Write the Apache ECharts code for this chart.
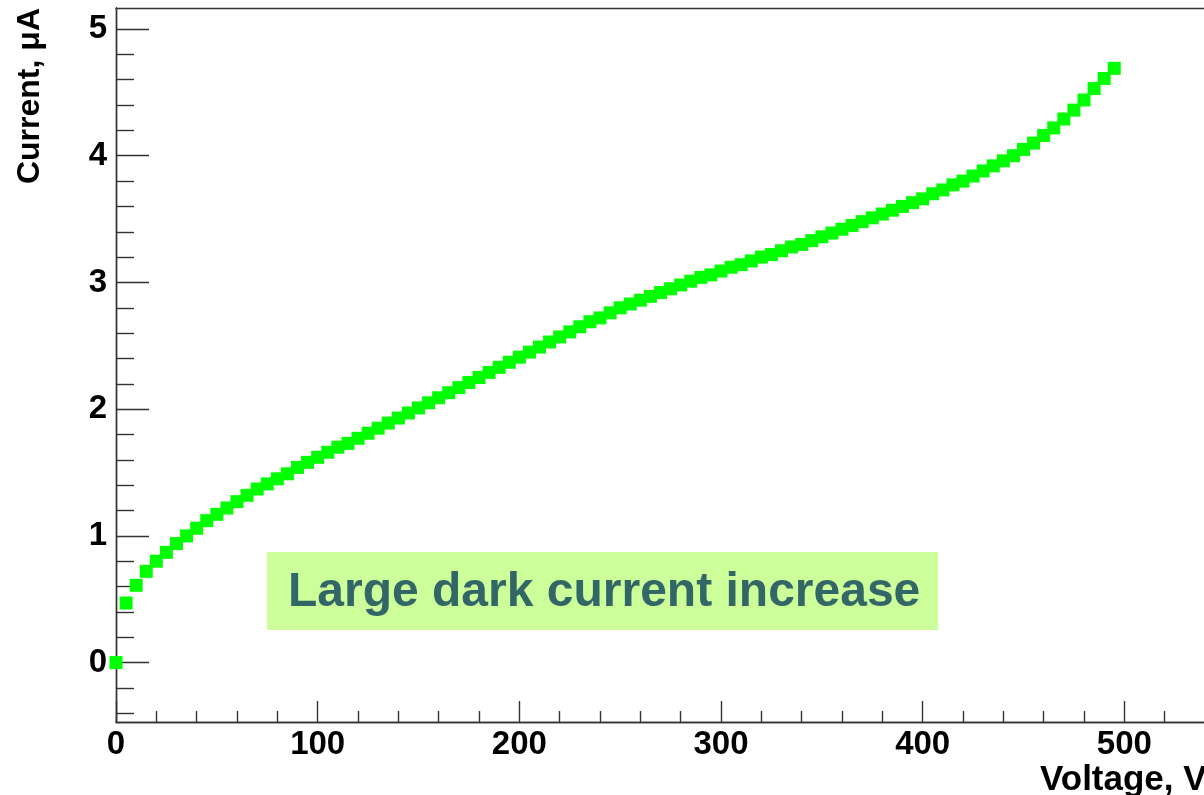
<!DOCTYPE html>
<html>
<head>
<meta charset="utf-8">
<title>Current vs Voltage</title>
<script src="https://cdn.jsdelivr.net/npm/echarts@6/dist/echarts.min.js"></script>
<style>
  html, body { margin: 0; padding: 0; background: #ffffff; }
  #chart { width: 1204px; height: 795px; }
</style>
</head>
<body>
<div id="chart"></div>
<script>
// Bias voltage, V (5 V steps)
const voltage = [
  0, 5, 10, 15, 20, 25, 30, 35, 40, 45,
  50, 55, 60, 65, 70, 75, 80, 85, 90, 95,
  100, 105, 110, 115, 120, 125, 130, 135, 140, 145,
  150, 155, 160, 165, 170, 175, 180, 185, 190, 195,
  200, 205, 210, 215, 220, 225, 230, 235, 240, 245,
  250, 255, 260, 265, 270, 275, 280, 285, 290, 295,
  300, 305, 310, 315, 320, 325, 330, 335, 340, 345,
  350, 355, 360, 365, 370, 375, 380, 385, 390, 395,
  400, 405, 410, 415, 420, 425, 430, 435, 440, 445,
  450, 455, 460, 465, 470, 475, 480, 485, 490, 495
];

// Measured dark current, µA
const current = [
  0.00, 0.47, 0.61, 0.72, 0.80, 0.87, 0.94, 1.00, 1.06, 1.12,
  1.17, 1.22, 1.27, 1.32, 1.37, 1.41, 1.45, 1.49, 1.54, 1.58,
  1.62, 1.66, 1.70, 1.73, 1.77, 1.81, 1.85, 1.89, 1.93, 1.97,
  2.01, 2.05, 2.09, 2.13, 2.17, 2.21, 2.25, 2.29, 2.33, 2.37,
  2.41, 2.45, 2.49, 2.53, 2.57, 2.61, 2.65, 2.69, 2.72, 2.76,
  2.80, 2.83, 2.86, 2.89, 2.92, 2.95, 2.98, 3.01, 3.04, 3.06,
  3.09, 3.12, 3.14, 3.17, 3.20, 3.22, 3.25, 3.28, 3.30, 3.33,
  3.36, 3.39, 3.42, 3.45, 3.48, 3.51, 3.54, 3.57, 3.60, 3.63,
  3.66, 3.70, 3.73, 3.77, 3.80, 3.84, 3.88, 3.92, 3.96, 4.00,
  4.05, 4.10, 4.16, 4.22, 4.29, 4.36, 4.44, 4.53, 4.61, 4.69
];

// Axis ticks
const xMajorTicks = [0, 100, 200, 300, 400, 500];
const xMinorTicks = [20, 40, 60, 80, 120, 140, 160, 180, 220, 240, 260, 280,
                     320, 340, 360, 380, 420, 440, 460, 480, 520];
const yMajorTicks = [0, 1, 2, 3, 4, 5];
const yMinorTicks = [-0.4, -0.2, 0.2, 0.4, 0.6, 0.8, 1.2, 1.4, 1.6, 1.8,
                     2.2, 2.4, 2.6, 2.8, 3.2, 3.4, 3.6, 3.8, 4.2, 4.4, 4.6, 4.8];

// Texts
const xTitle = 'Voltage, V';
const yTitle = 'Current, μA';
const noteText = 'Large dark current increase';

// Visible ranges (the frame runs on past the right edge of the page)
const X_MIN = 0, X_MAX = 539.5;
const Y_MIN = -0.469, Y_MAX = 5.166;

const FONT = '"Liberation Sans", Arial, Helvetica, sans-serif';
const AXIS_COLOR = '#333333';
const LABEL_SIZE = 33;

const points = voltage.map((v, i) => [v, current[i]]);

const lineStyle = { color: AXIS_COLOR, width: 1.4 };

function xAxisDef(pos, ticks, len, labels) {
  return {
    type: 'value', position: pos, min: X_MIN, max: X_MAX,
    axisLine: { show: true, onZero: false, lineStyle },
    axisTick: { show: ticks.length > 0, inside: true, length: len, customValues: ticks, lineStyle },
    axisLabel: labels ? {
      show: true, customValues: ticks, margin: 6,
      color: '#000', fontFamily: FONT, fontWeight: 'bold', fontSize: LABEL_SIZE
    } : { show: false },
    splitLine: { show: false }
  };
}

function yAxisDef(pos, ticks, len, labels) {
  return {
    type: 'value', position: pos, min: Y_MIN, max: Y_MAX,
    axisLine: { show: true, onZero: false, lineStyle },
    axisTick: { show: ticks.length > 0, inside: true, length: len, customValues: ticks, lineStyle },
    axisLabel: labels ? {
      show: true, customValues: ticks, margin: 9,
      color: '#000', fontFamily: FONT, fontWeight: 'bold', fontSize: LABEL_SIZE,
      padding: [4, 0, 0, 0]
    } : { show: false },
    splitLine: { show: false }
  };
}

const chart = echarts.init(document.getElementById('chart'), null, { renderer: 'canvas' });

chart.setOption({
  animation: false,
  backgroundColor: '#ffffff',
  grid: { left: 116, top: 8, right: 0, height: 714, containLabel: false },
  xAxis: [
    xAxisDef('bottom', xMajorTicks, 21, true),
    xAxisDef('bottom', xMinorTicks, 11, false),
    xAxisDef('top', [], 0, false)
  ],
  yAxis: [
    yAxisDef('left', yMajorTicks, 33, true),
    yAxisDef('left', yMinorTicks, 18, false)
  ],
  series: [{
    type: 'scatter',
    xAxisIndex: 0,
    yAxisIndex: 0,
    data: points,
    symbol: 'rect',
    symbolSize: 13,
    clip: false,
    itemStyle: { color: '#00ff00', opacity: 1 },
    z: 3
  }],
  graphic: [
    {
      type: 'rect',
      shape: { x: 267, y: 552, width: 671, height: 78 },
      style: { fill: '#ccff99' },
      z: 10
    },
    {
      type: 'text',
      x: 288, y: 593,
      style: {
        text: noteText, fill: '#336666',
        font: 'bold 48px ' + FONT,
        textAlign: 'left', textVerticalAlign: 'middle'
      },
      z: 11
    },
    {
      type: 'text',
      x: 1040, y: 780,
      style: {
        text: xTitle, fill: '#000',
        font: 'bold 35px ' + FONT,
        textAlign: 'left', textVerticalAlign: 'middle'
      },
      z: 11
    },
    {
      type: 'text',
      x: 30, y: 8,
      rotation: Math.PI / 2,
      style: {
        text: yTitle, fill: '#000',
        font: 'bold 32px ' + FONT,
        textAlign: 'right', textVerticalAlign: 'middle'
      },
      z: 11
    }
  ]
});
</script>
</body>
</html>
